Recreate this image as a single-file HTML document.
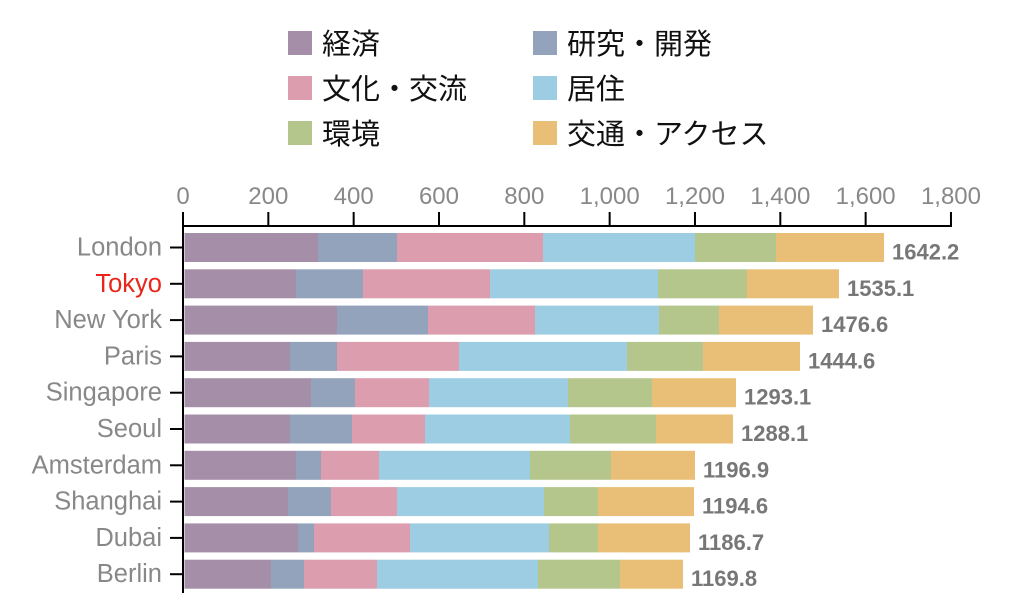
<!DOCTYPE html><html><head><style>body{margin:0;background:#fff}svg{display:block}text{font-family:"Liberation Sans","Noto Sans CJK JP",sans-serif}</style></head><body>
<svg width="1024" height="593" xmlns="http://www.w3.org/2000/svg">
<g font-size="29" fill="#111">
<rect x="288" y="31" width="24" height="24" fill="#a58fa8"/><text x="322" y="54">経済</text>
<rect x="288" y="76" width="24" height="24" fill="#dc9eae"/><text x="322" y="99">文化・交流</text>
<rect x="288" y="121" width="24" height="24" fill="#b5c68d"/><text x="322" y="144">環境</text>
<rect x="533" y="31" width="24" height="24" fill="#93a3bb"/><text x="567" y="54">研究・開発</text>
<rect x="533" y="76" width="24" height="24" fill="#9dcde2"/><text x="567" y="99">居住</text>
<rect x="533" y="121" width="24" height="24" fill="#e9bf77"/><text x="567" y="144">交通・アクセス</text>
</g>
<g id="bars"></g>
<g stroke="#000" stroke-width="2" fill="none">
<path d="M183,226H952M183,212V593"/>
</g>
<g id="ax" font-size="23" fill="#888" text-anchor="middle"></g>
<script>
var ns="http://www.w3.org/2000/svg",ax=document.getElementById('ax'),b=document.getElementById('bars');
function el(t,a,p,txt){var e=document.createElementNS(ns,t);for(var k in a)e.setAttribute(k,a[k]);if(txt)e.textContent=txt;p.appendChild(e);return e;}
var labs=["0","200","400","600","800","1,000","1,200","1,400","1,600","1,800"];
for(var i=0;i<10;i++){var x=183+i*85.33;el('line',{x1:x,x2:x,y1:212,y2:226,stroke:'#000','stroke-width':2},ax);el('text',{x:x,y:204,'font-size':'24'},ax,labs[i]);}
var cols=["#a58fa8","#93a3bb","#dc9eae","#9dcde2","#b5c68d","#e9bf77"];
var d=[["London",[318,397,543,695,776,884],"1642.2"],["Tokyo",[296,363,490,658,747,839],"1535.1"],["New York",[337,428,535,659,719,813],"1476.6"],["Paris",[290,337,459,627,703,800],"1444.6"],["Singapore",[311,355,429,568,652,736],"1293.1"],["Seoul",[290,352,425,570,656,733],"1288.1"],["Amsterdam",[296,321,379,530,611,695],"1196.9"],["Shanghai",[288,331,397,544,598,694],"1194.6"],["Dubai",[298,314,410,549,598,690],"1186.7"],["Berlin",[271,304,377,538,620,683],"1169.8"]];
d.forEach(function(r,j){var cy=247.5+j*36.3,y=cy-14.5,x0=184.5;
r[1].forEach(function(x1,k){el('rect',{x:x0,y:y,width:x1-x0,height:29,fill:cols[k]},b);x0=x1;});
el('line',{x1:170,x2:183,y1:cy,y2:cy,stroke:'#000','stroke-width':2},ax);
el('text',{x:162,y:cy+8,'text-anchor':'end','font-size':'25.5',fill:j==1?'#e8261b':'#888'},ax,r[0]);
el('text',{x:r[1][5]+8,y:cy+12,'text-anchor':'start','font-size':'22','font-weight':'bold',fill:'#777'},ax,r[2]);});
</script>
</svg></body></html>
